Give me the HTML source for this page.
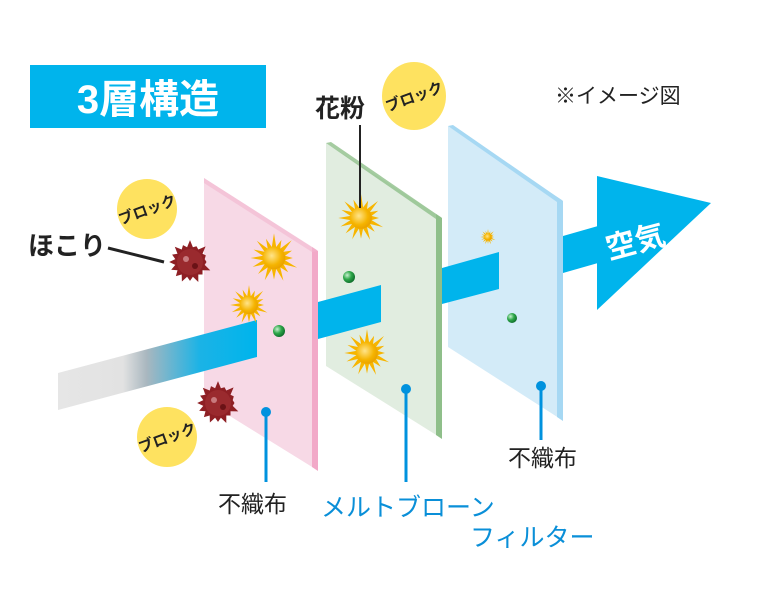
<!DOCTYPE html>
<html><head><meta charset="utf-8"><style>
html,body{margin:0;padding:0;background:#fff;}
svg{display:block;}
text{font-family:"Liberation Sans","Noto Sans CJK JP",sans-serif;}
</style></head><body>
<svg id="s" width="766" height="604" viewBox="0 0 766 604" xmlns="http://www.w3.org/2000/svg">
<defs>
<linearGradient id="beam" x1="58" y1="0" x2="255" y2="0" gradientUnits="userSpaceOnUse">
<stop offset="0" stop-color="#e6e6e6"/><stop offset="0.33" stop-color="#e2e2e2"/><stop offset="0.45" stop-color="#a9b7bf"/><stop offset="0.72" stop-color="#1bb3e6"/><stop offset="1" stop-color="#00b4ec"/>
</linearGradient>
<radialGradient id="gd" cx="0.35" cy="0.35" r="0.7"><stop offset="0" stop-color="#c8f0d0"/><stop offset="0.5" stop-color="#2ea84a"/><stop offset="1" stop-color="#0d6b2a"/></radialGradient>
<radialGradient id="og" cx="0.4" cy="0.4" r="0.7"><stop offset="0" stop-color="#ffe48a"/><stop offset="0.6" stop-color="#f5b400"/><stop offset="1" stop-color="#e59a00"/></radialGradient>
</defs>
<rect x="30" y="65" width="236" height="63" fill="#00b4ec"/>
<text x="148" y="113" font-size="40" font-weight="bold" fill="#fff" text-anchor="middle">3層構造</text>
<text x="555" y="103" font-size="21" fill="#222">※イメージ図</text>

<!-- pink panel -->
<polygon points="204,178 317,250 317,470 204,400" fill="#f7d9e6"/>
<polygon points="312,247 318,251 318,471 312,467" fill="#f2a9c8"/>
<polygon points="204,178 318,251 312,252 204,183" fill="#f2b6cf" opacity="0.6"/>
<polygon points="58,373 257,320 257,357 58,410" fill="url(#beam)"/>
<!-- green panel -->
<polygon points="326,143 441,217 441,438 326,366" fill="#e1ede0"/>
<polygon points="436,214 442,218 442,439 436,435" fill="#8fbf8a"/>
<polygon points="326,143 331,142 442,218 436,219" fill="#8fbf8a" opacity="0.8"/>
<polygon points="318,302 381,285 381,322 318,339" fill="#00b4ec"/>
<!-- blue panel -->
<polygon points="448,126 562,200 562,420 448,347" fill="#d3ebf8"/>
<polygon points="557,197 563,201 563,421 557,417" fill="#a6d8f3"/>
<polygon points="448,126 453,125 563,201 557,202" fill="#a6d8f3"/>
<polygon points="442,268 499,252 499,289 442,304" fill="#00b4ec"/>
<polygon points="563,236 598,226 598,263 563,273" fill="#00b4ec"/>
<polygon points="597,176 711,203 597,310" fill="#00b4ec"/>
<text x="605" y="252" font-size="30" font-weight="bold" fill="#fff" transform="rotate(-15 635 240)">空気</text>

<g id="fx"></g>

<g stroke="#0092de" stroke-width="3" fill="#0092de">
<line x1="266" y1="412" x2="266" y2="482"/><circle cx="266" cy="412" r="5" stroke="none"/>
<line x1="406" y1="389" x2="406" y2="482"/><circle cx="406" cy="389" r="5" stroke="none"/>
<line x1="541" y1="386" x2="541" y2="440"/><circle cx="541" cy="386" r="5" stroke="none"/>
</g>
<line x1="360" y1="125" x2="360" y2="208" stroke="#222" stroke-width="2"/>
<line x1="108" y1="248" x2="164" y2="262" stroke="#222" stroke-width="3"/>

<text x="218" y="512" font-size="23" fill="#222">不織布</text>
<text x="508" y="466" font-size="23" fill="#222">不織布</text>
<text x="321" y="516" font-size="25" fill="#0a8fd8">メルトブローン</text>
<text x="470" y="546" font-size="25" fill="#0a8fd8">フィルター</text>
<text x="315" y="117" font-size="25" font-weight="bold" fill="#222">花粉</text>
<text x="28" y="255" font-size="26" font-weight="bold" fill="#222">ほこり</text>

<g font-size="15" font-weight="bold" fill="#222" text-anchor="middle">
<ellipse cx="414" cy="96" rx="32" ry="34" fill="#fee260"/>
<text x="414" y="102" transform="rotate(-20 414 96)">ブロック</text>
<ellipse cx="147" cy="209" rx="30" ry="30" fill="#fee260"/>
<text x="147" y="215" transform="rotate(-20 147 209)">ブロック</text>
<ellipse cx="167" cy="437" rx="30" ry="30" fill="#fee260"/>
<text x="167" y="443" transform="rotate(-20 167 437)">ブロック</text>
</g>
</svg>
<script>
var g=document.getElementById('fx'),NS='http://www.w3.org/2000/svg';
function star(cx,cy,ro,ri,n,fill){var p=[];for(var i=0;i<2*n;i++){var r=i%2?ri:ro*(0.75+0.25*Math.abs(Math.sin(i*2.3)));var a=i*Math.PI/n;p.push((cx+r*Math.cos(a)).toFixed(1)+','+(cy+r*Math.sin(a)).toFixed(1));}
var e=document.createElementNS(NS,'polygon');e.setAttribute('points',p.join(' '));e.setAttribute('fill',fill);g.appendChild(e);}
function circ(cx,cy,r,f){var e=document.createElementNS(NS,'circle');e.setAttribute('cx',cx);e.setAttribute('cy',cy);e.setAttribute('r',r);e.setAttribute('fill',f);g.appendChild(e);}
function pollen(x,y,s){star(x,y,s,s*0.45,16,'#f7b500');circ(x,y,s*0.45,'url(#og)');}
function dust(x,y){star(x,y,22,15,16,'#8e1f24');circ(x,y,13,'#9a2a2e');circ(x-4,y-3,3,'#c87a7e');circ(x+5,y+4,3,'#6a1216');}
dust(190,262);dust(218,403);
pollen(274,258,25);pollen(249,305,20);pollen(361,218,24);pollen(367,353,24);pollen(488,237,8);
circ(279,331,6,'url(#gd)');circ(349,277,6,'url(#gd)');circ(512,318,5,'url(#gd)');
</script>
</body></html>
